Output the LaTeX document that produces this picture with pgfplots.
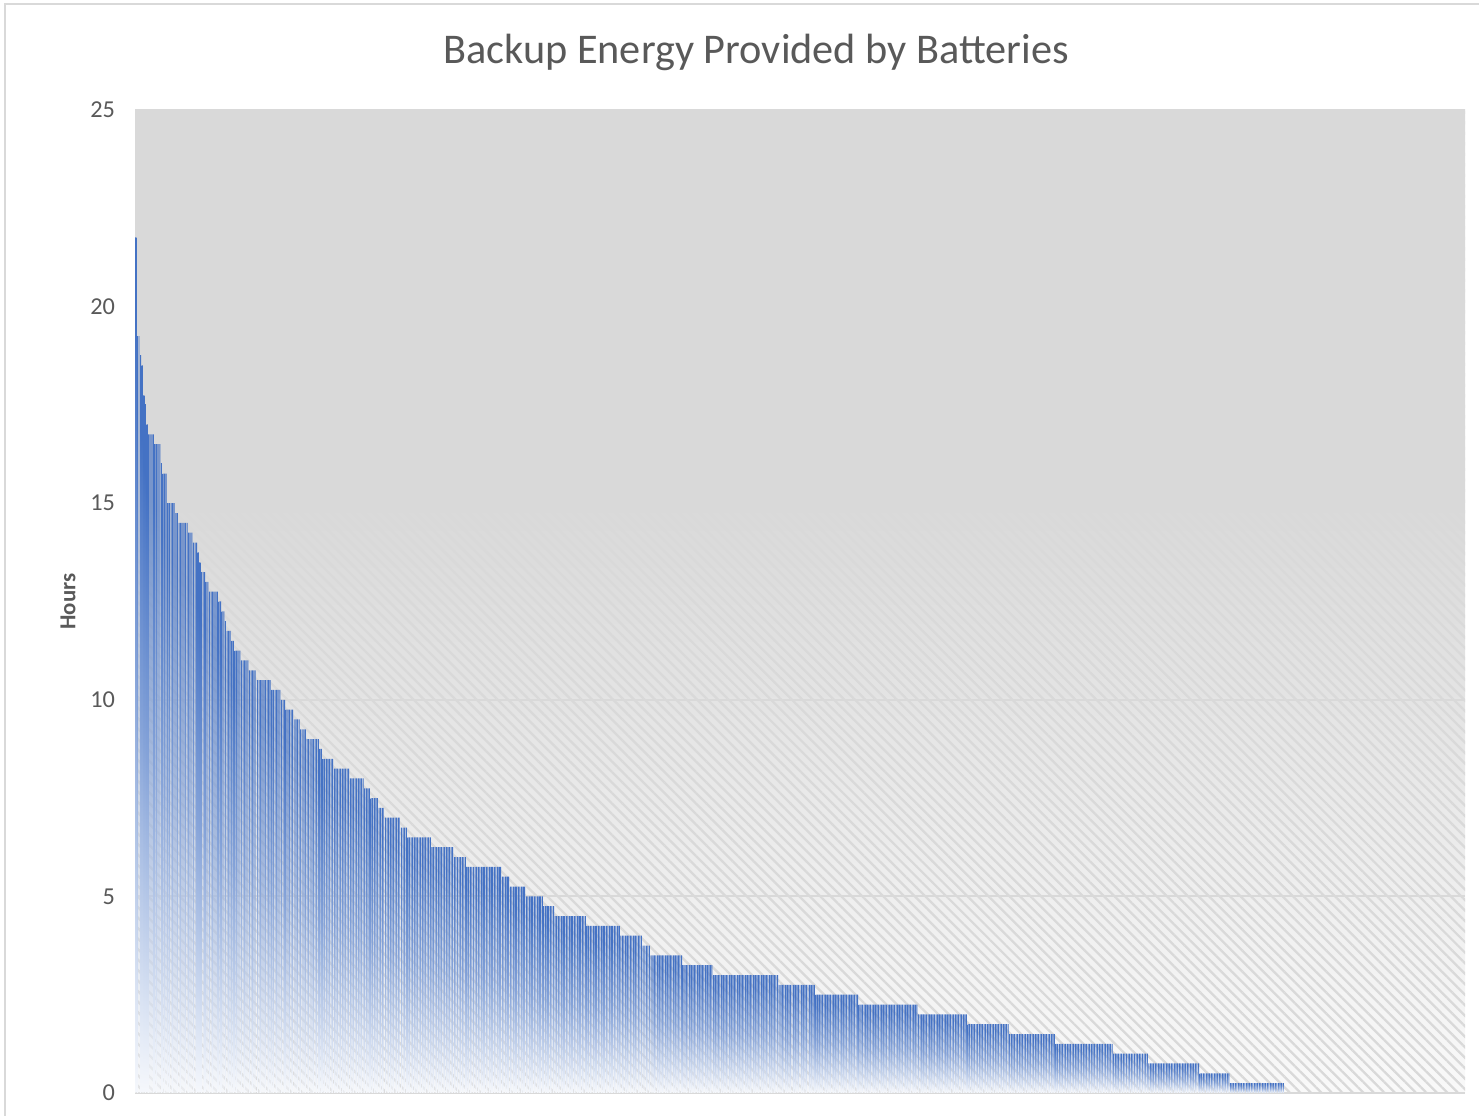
\documentclass[border=0pt]{standalone}
\usepackage{fontspec}
\setmainfont{Carlito}
\usepackage{pgfplots}
\usepackage{pgfplotstable}
\pgfplotsset{compat=1.18}
\usetikzlibrary{patterns.meta}
\definecolor{xlblue}{HTML}{4472C4}
\definecolor{txt}{HTML}{595959}
\definecolor{gridc}{HTML}{D9D9D9}
\definecolor{bgtop}{HTML}{D9D9D9}
\definecolor{bgbot}{HTML}{F9F9F9}
\colorlet{barbot}{xlblue!5!white}
\colorlet{barmid}{xlblue!65!white}
\pgfdeclareverticalshading{bgshade}{100bp}{color(0bp)=(bgbot); color(25bp)=(bgbot); color(55bp)=(bgtop); color(100bp)=(bgtop)}
\pgfdeclareverticalshading{barshade}{100bp}{color(0bp)=(barbot); color(25bp)=(barbot); color(50bp)=(barmid); color(70bp)=(xlblue); color(100bp)=(xlblue)}

\pgfplotstableread[row sep=\\]{
h\\
21.75\\
19.25\\19.25\\
18.75\\
18.5\\
17.75\\
17.5\\
17\\
16.75\\16.75\\16.75\\16.75\\
16.5\\16.5\\16.5\\16.5\\
16\\
15.75\\15.75\\15.75\\
15\\15\\15\\15\\15\\
14.75\\14.75\\
14.5\\14.5\\14.5\\14.5\\14.5\\14.5\\
14.25\\14.25\\14.25\\
14\\14\\14\\
13.75\\
13.5\\
13.25\\13.25\\13.25\\
13\\13\\
12.75\\12.75\\12.75\\12.75\\12.75\\12.75\\
12.5\\12.5\\
12.25\\12.25\\
12\\
11.75\\11.75\\11.75\\
11.5\\11.5\\
11.25\\11.25\\11.25\\11.25\\
11\\11\\11\\11\\11\\
10.75\\10.75\\10.75\\10.75\\10.75\\
10.5\\10.5\\10.5\\10.5\\10.5\\10.5\\10.5\\10.5\\10.5\\
10.25\\10.25\\10.25\\10.25\\10.25\\10.25\\
10\\10\\10\\
9.75\\9.75\\9.75\\9.75\\9.75\\
9.5\\9.5\\9.5\\9.5\\
9.25\\9.25\\9.25\\9.25\\
9\\9\\9\\9\\9\\9\\9\\9\\
8.75\\8.75\\
8.5\\8.5\\8.5\\8.5\\8.5\\8.5\\8.5\\
8.25\\8.25\\8.25\\8.25\\8.25\\8.25\\8.25\\8.25\\8.25\\8.25\\
8\\8\\8\\8\\8\\8\\8\\8\\8\\
7.75\\7.75\\7.75\\7.75\\
7.5\\7.5\\7.5\\7.5\\7.5\\
7.25\\7.25\\7.25\\7.25\\
7\\7\\7\\7\\7\\7\\7\\7\\7\\7\\
6.75\\6.75\\6.75\\6.75\\
6.5\\6.5\\6.5\\6.5\\6.5\\6.5\\6.5\\6.5\\6.5\\6.5\\
6.5\\6.5\\6.5\\6.5\\6.5\\
6.25\\6.25\\6.25\\6.25\\6.25\\6.25\\6.25\\6.25\\6.25\\6.25\\
6.25\\6.25\\6.25\\6.25\\
6\\6\\6\\6\\6\\6\\6\\6\\
5.75\\5.75\\5.75\\5.75\\5.75\\5.75\\5.75\\5.75\\5.75\\5.75\\
5.75\\5.75\\5.75\\5.75\\5.75\\5.75\\5.75\\5.75\\5.75\\5.75\\
5.75\\5.75\\
5.5\\5.5\\5.5\\5.5\\5.5\\
5.25\\5.25\\5.25\\5.25\\5.25\\5.25\\5.25\\5.25\\5.25\\5.25\\
5\\5\\5\\5\\5\\5\\5\\5\\5\\5\\
5\\
4.75\\4.75\\4.75\\4.75\\4.75\\4.75\\4.75\\
4.5\\4.5\\4.5\\4.5\\4.5\\4.5\\4.5\\4.5\\4.5\\4.5\\
4.5\\4.5\\4.5\\4.5\\4.5\\4.5\\4.5\\4.5\\4.5\\4.5\\
4.25\\4.25\\4.25\\4.25\\4.25\\4.25\\4.25\\4.25\\4.25\\4.25\\
4.25\\4.25\\4.25\\4.25\\4.25\\4.25\\4.25\\4.25\\4.25\\4.25\\
4.25\\
4\\4\\4\\4\\4\\4\\4\\4\\4\\4\\
4\\4\\4\\4\\
3.75\\3.75\\3.75\\3.75\\3.75\\
3.5\\3.5\\3.5\\3.5\\3.5\\3.5\\3.5\\3.5\\3.5\\3.5\\
3.5\\3.5\\3.5\\3.5\\3.5\\3.5\\3.5\\3.5\\3.5\\3.5\\
3.25\\3.25\\3.25\\3.25\\3.25\\3.25\\3.25\\3.25\\3.25\\3.25\\
3.25\\3.25\\3.25\\3.25\\3.25\\3.25\\3.25\\3.25\\3.25\\
3\\3\\3\\3\\3\\3\\3\\3\\3\\3\\
3\\3\\3\\3\\3\\3\\3\\3\\3\\3\\
3\\3\\3\\3\\3\\3\\3\\3\\3\\3\\
3\\3\\3\\3\\3\\3\\3\\3\\3\\3\\
3\\
2.75\\2.75\\2.75\\2.75\\2.75\\2.75\\2.75\\2.75\\2.75\\2.75\\
2.75\\2.75\\2.75\\2.75\\2.75\\2.75\\2.75\\2.75\\2.75\\2.75\\
2.75\\2.75\\2.75\\
2.5\\2.5\\2.5\\2.5\\2.5\\2.5\\2.5\\2.5\\2.5\\2.5\\
2.5\\2.5\\2.5\\2.5\\2.5\\2.5\\2.5\\2.5\\2.5\\2.5\\
2.5\\2.5\\2.5\\2.5\\2.5\\2.5\\2.5\\
2.25\\2.25\\2.25\\2.25\\2.25\\2.25\\2.25\\2.25\\2.25\\2.25\\
2.25\\2.25\\2.25\\2.25\\2.25\\2.25\\2.25\\2.25\\2.25\\2.25\\
2.25\\2.25\\2.25\\2.25\\2.25\\2.25\\2.25\\2.25\\2.25\\2.25\\
2.25\\2.25\\2.25\\2.25\\2.25\\2.25\\2.25\\
2\\2\\2\\2\\2\\2\\2\\2\\2\\2\\
2\\2\\2\\2\\2\\2\\2\\2\\2\\2\\
2\\2\\2\\2\\2\\2\\2\\2\\2\\2\\
2\\
1.75\\1.75\\1.75\\1.75\\1.75\\1.75\\1.75\\1.75\\1.75\\1.75\\
1.75\\1.75\\1.75\\1.75\\1.75\\1.75\\1.75\\1.75\\1.75\\1.75\\
1.75\\1.75\\1.75\\1.75\\1.75\\1.75\\
1.5\\1.5\\1.5\\1.5\\1.5\\1.5\\1.5\\1.5\\1.5\\1.5\\
1.5\\1.5\\1.5\\1.5\\1.5\\1.5\\1.5\\1.5\\1.5\\1.5\\
1.5\\1.5\\1.5\\1.5\\1.5\\1.5\\1.5\\1.5\\1.5\\
1.25\\1.25\\1.25\\1.25\\1.25\\1.25\\1.25\\1.25\\1.25\\1.25\\
1.25\\1.25\\1.25\\1.25\\1.25\\1.25\\1.25\\1.25\\1.25\\1.25\\
1.25\\1.25\\1.25\\1.25\\1.25\\1.25\\1.25\\1.25\\1.25\\1.25\\
1.25\\1.25\\1.25\\1.25\\1.25\\1.25\\
1\\1\\1\\1\\1\\1\\1\\1\\1\\1\\
1\\1\\1\\1\\1\\1\\1\\1\\1\\1\\
1\\1\\
0.75\\0.75\\0.75\\0.75\\0.75\\0.75\\0.75\\0.75\\0.75\\0.75\\
0.75\\0.75\\0.75\\0.75\\0.75\\0.75\\0.75\\0.75\\0.75\\0.75\\
0.75\\0.75\\0.75\\0.75\\0.75\\0.75\\0.75\\0.75\\0.75\\0.75\\
0.75\\0.75\\
0.5\\0.5\\0.5\\0.5\\0.5\\0.5\\0.5\\0.5\\0.5\\0.5\\
0.5\\0.5\\0.5\\0.5\\0.5\\0.5\\0.5\\0.5\\0.5\\
0.25\\0.25\\0.25\\0.25\\0.25\\0.25\\0.25\\0.25\\0.25\\0.25\\
0.25\\0.25\\0.25\\0.25\\0.25\\0.25\\0.25\\0.25\\0.25\\0.25\\
0.25\\0.25\\0.25\\0.25\\0.25\\0.25\\0.25\\0.25\\0.25\\0.25\\
0.25\\0.25\\0.25\\0.25\\
}\hrs

\begin{document}
\begin{tikzpicture}[x=1pt,y=1pt]
\path[use as bounding box] (-47.25,-8.05) rectangle (470.4,382.55);
\draw[gridc, line width=0.6pt] (-45.5,-30) -- (-45.5,381.15) -- (480,381.15);
\begin{axis}[
  at={(0,0)}, anchor=south west, scale only axis,
  width=465.5pt, height=344.05pt,
  xmin=0.5, xmax=831.5, ymin=0, ymax=25,
  xtick=\empty, ytick={0,5,...,25},
  axis line style={draw=none}, major tick length=0pt,
  ymajorgrids, grid style={gridc, line width=0.7pt},
  axis background/.style={shade, shading=bgshade,
    postaction={pattern={Lines[angle=-45,distance=2.6pt,line width=0.8pt]}, pattern color=gridc}},
  /pgf/number format/assume math mode=true,
  yticklabel style={font=\fontsize{8.5}{10}\selectfont, text=txt, anchor=east, inner sep=0pt, xshift=-6.8pt},
  ylabel={Hours},
  every axis y label/.style={at={(axis description cs:-0.0504,0.5)}, rotate=90, anchor=center,
    font=\bfseries\fontsize{8}{9.6}\selectfont, text=txt},
  unbounded coords=discard,
]
% one plot per hour level (a window round each level), so that each group of equal bars gets its own top-to-bottom gradient
\pgfplotsinvokeforeach{21.65:21.85, 19.15:19.35, 18.65:18.85, 18.4:18.6, 17.65:17.85, 17.4:17.6, 16.9:17.1, 16.65:16.85, 16.4:16.6, 15.9:16.1, 15.65:15.85, 14.9:15.1, 14.65:14.85, 14.4:14.6, 14.15:14.35, 13.9:14.1, 13.65:13.85, 13.4:13.6, 13.15:13.35, 12.9:13.1, 12.65:12.85, 12.4:12.6, 12.15:12.35, 11.9:12.1, 11.65:11.85, 11.4:11.6, 11.15:11.35, 10.9:11.1, 10.65:10.85, 10.4:10.6, 10.15:10.35, 9.9:10.1, 9.65:9.85, 9.4:9.6, 9.15:9.35, 8.9:9.1, 8.65:8.85, 8.4:8.6, 8.15:8.35, 7.9:8.1, 7.65:7.85, 7.4:7.6, 7.15:7.35, 6.9:7.1, 6.65:6.85, 6.4:6.6, 6.15:6.35, 5.9:6.1, 5.65:5.85, 5.4:5.6, 5.15:5.35, 4.9:5.1, 4.65:4.85, 4.4:4.6, 4.15:4.35, 3.9:4.1, 3.65:3.85, 3.4:3.6, 3.15:3.35, 2.9:3.1, 2.65:2.85, 2.4:2.6, 2.15:2.35, 1.9:2.1, 1.65:1.85, 1.4:1.6, 1.15:1.35, 0.9:1.1, 0.65:0.85, 0.4:0.6, 0.15:0.35}{
\addplot[ybar, bar width=0.62, bar shift=0pt, draw=none, shade, shading=barshade,
  restrict y to domain=#1]
  table[x expr=\coordindex+1, y=h] {\hrs};
}
\end{axis}
\node[text=txt, font=\fontsize{14.8}{17.5}\selectfont] at (217.35,364.2) {Backup Energy Provided by Batteries};
\end{tikzpicture}
\end{document}
